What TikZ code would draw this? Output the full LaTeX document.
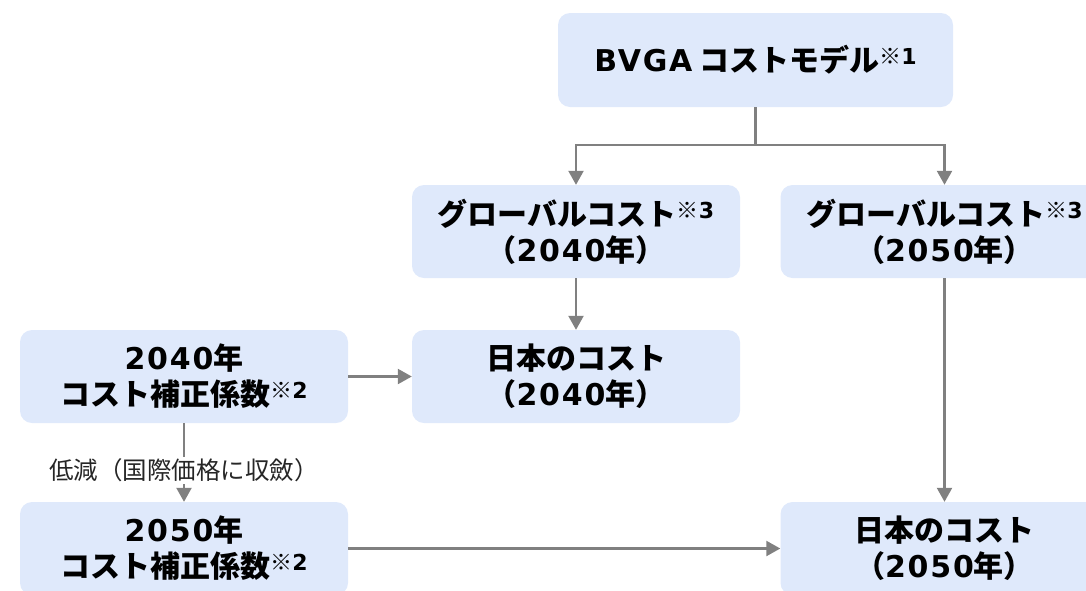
\documentclass[tikz,border=0pt]{standalone}
\usepackage{fontspec}
\setmainfont{Noto Sans CJK JP}
\newfontfamily\latnfont{DejaVu Sans}[LetterSpace=6]
\usetikzlibrary{arrows.meta}
\definecolor{boxblue}{RGB}{223,233,251}
\definecolor{linegray}{RGB}{128,128,128}
\newcommand{\latn}[1]{{\latnfont #1}}
\newcommand{\notemark}[1]{\raisebox{7pt}{\fontsize{22}{22}\selectfont ※\latn{#1}}}
\begin{document}
\begin{tikzpicture}[x=1pt,y=-1pt,
  box/.style={fill=boxblue, rounded corners=12pt, minimum width=328pt, minimum height=93pt,
    align=center, inner sep=0pt, font=\fontsize{30}{36}\selectfont\bfseries},
  conn/.style={draw=linegray, line width=2.3pt, -{Triangle[length=14pt,width=15pt]}},
  plain/.style={draw=linegray, line width=2.3pt},
  lbl/.style={fill=white, inner sep=2pt, font=\fontsize{24.5}{28}\selectfont, text=black!85},
]
\useasboundingbox (0,0) rectangle (1086,590);
\clip (0,0) rectangle (1086,590);
\node[box, minimum width=395pt, minimum height=94pt] (bvga) at (755.5,60) {\latn{BVGA} コストモデル\notemark{1}};
\node[box] (g40) at (576,231.5) {グローバルコスト\notemark{3}\\（\latn{2040}年）};
\node[box] (g50) at (944.5,231.5) {グローバルコスト\notemark{3}\\（\latn{2050}年）};
\node[box] (j40) at (576,376.5) {日本のコスト\\（\latn{2040}年）};
\node[box] (f40) at (184,376.5) {\latn{2040}年\\コスト補正係数\notemark{2}};
\node[box] (f50) at (184,548.5) {\latn{2050}年\\コスト補正係数\notemark{2}};
\node[box] (j50) at (944.5,548.5) {日本のコスト\\（\latn{2050}年）};
\coordinate (split) at (755.5,145);
\draw[plain] (bvga.south) -- (split);
\draw[conn] (split) -| (g40.north);
\draw[conn] (split) -| (g50.north);
\draw[conn] (g40) -- (j40);
\draw[conn] (g50) -- (j50);
\draw[conn] (f40) -- (j40);
\draw[conn] (f50) -- (j50);
\draw[conn] (f40) -- node[lbl, pos=0.6] (lab) {低減（国際価格に収斂）} (f50);
\end{tikzpicture}
\end{document}
